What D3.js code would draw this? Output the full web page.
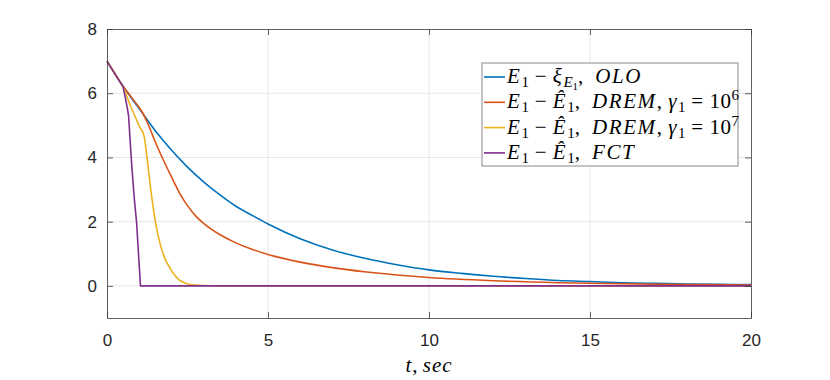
<!DOCTYPE html>
<html>
<head>
<meta charset="utf-8">
<script src="https://cdn.jsdelivr.net/npm/d3@7/dist/d3.min.js"></script>
<style>
  body { margin: 0; background: #fff; }
  .tick text { font-family: "Liberation Sans", Arial, sans-serif; font-size: 17px; fill: #262626; }
</style>
</head>
<body>
<svg id="chart" width="830" height="380"></svg>
<script>
// values
var xTicks = [0, 5, 10, 15, 20];
var yTicks = [0, 2, 4, 6, 8];

var oloT = [0, 0.4, 1, 1.5, 2, 2.5, 3, 3.5, 4, 4.5, 5, 6, 7, 8, 9, 10, 11, 12, 13, 14, 15, 16, 17, 18, 19, 20];
var oloE = [7, 6.36, 5.52, 4.83, 4.23, 3.7, 3.24, 2.84, 2.48, 2.2, 1.93, 1.47, 1.12, 0.86, 0.66, 0.5, 0.39, 0.3, 0.23, 0.17, 0.135, 0.1, 0.08, 0.06, 0.05, 0.04];

var drem6T = [0, 0.4, 0.8, 1.1, 1.3, 1.5, 1.75, 2, 2.25, 2.5, 2.75, 3, 3.5, 4, 4.5, 5, 6, 7, 8, 9, 10, 12, 14, 16, 18, 20];
var drem6E = [7, 6.36, 5.82, 5.4, 4.98, 4.48, 3.92, 3.4, 2.9, 2.5, 2.18, 1.95, 1.6, 1.34, 1.14, 0.98, 0.74, 0.57, 0.44, 0.34, 0.26, 0.16, 0.1, 0.065, 0.04, 0.03];

var drem7T = [0, 0.4, 0.55, 0.7, 0.85, 1.0, 1.15, 1.25, 1.36, 1.51, 1.67, 1.8, 1.93, 2.08, 2.24, 2.4, 2.55, 3.0, 3.5, 20];
var drem7E = [7, 6.36, 6.08, 5.68, 5.33, 4.98, 4.67, 3.94, 3.0, 1.96, 1.23, 0.85, 0.6, 0.36, 0.19, 0.1, 0.05, 0.01, 0, 0];

var fctT = [0, 0.4, 0.5, 0.56, 0.62, 0.67, 0.72, 0.77, 0.85, 0.92, 1.04, 20];
var fctE = [7, 6.36, 6.2, 5.9, 5.6, 5.3, 4.5, 3.73, 2.7, 1.96, 0, 0];

var seriesColors = ['#0072BD', '#D95319', '#EDB120', '#7E2F8E'];

var svg = d3.select('#chart');
var plotLeft = 107, plotRight = 751, plotTop = 29, plotBottom = 318;

var x = d3.scaleLinear().domain([0, 20]).range([plotLeft, plotRight]);
var y = d3.scaleLinear().domain([-1, 8]).range([plotBottom, plotTop]);

// grid
svg.append('g').selectAll('line').data(xTicks.slice(1, -1)).enter().append('line')
  .attr('x1', (d) => x(d)).attr('x2', (d) => x(d))
  .attr('y1', plotTop).attr('y2', plotBottom)
  .attr('stroke', '#e6e6e6').attr('stroke-width', 1);
svg.append('g').selectAll('line').data(yTicks.slice(0, -1)).enter().append('line')
  .attr('x1', plotLeft).attr('x2', plotRight)
  .attr('y1', (d) => y(d)).attr('y2', (d) => y(d))
  .attr('stroke', '#e6e6e6').attr('stroke-width', 1);

// curves
var allSeries = [
  {t: oloT, e: oloE},
  {t: drem6T, e: drem6E},
  {t: drem7T, e: drem7E},
  {t: fctT, e: fctE}
];
allSeries.forEach(function(s, i) {
  var pts = s.t.map((t, k) => [t, s.e[k]]);
  var line = d3.line()
    .x((d) => x(d[0]))
    .y((d) => y(d[1]))
    .curve(i === 3 ? d3.curveLinear : d3.curveMonotoneX);
  svg.append('path')
    .datum(pts)
    .attr('d', line)
    .attr('fill', 'none')
    .attr('stroke', seriesColors[i])
    .attr('stroke-width', 1.6)
    .attr('stroke-linejoin', 'round');
});

// axes (ticks inward, box on all sides)
var axisColor = '#3a3a3a';
function styleAxis(g) {
  g.select('.domain').attr('stroke', axisColor).attr('stroke-width', 0.8);
  g.selectAll('.tick line').attr('stroke', axisColor).attr('stroke-width', 0.8);
}
svg.append('g').attr('transform', 'translate(0,' + plotBottom + ')')
  .call(d3.axisBottom(x).tickValues(xTicks).tickSizeInner(-6).tickSizeOuter(0).tickPadding(16))
  .call(styleAxis);
svg.append('g').attr('transform', 'translate(0,' + plotTop + ')')
  .call(d3.axisTop(x).tickValues(xTicks).tickSizeInner(-6).tickSizeOuter(0).tickFormat(''))
  .call(styleAxis);
svg.append('g').attr('transform', 'translate(' + plotLeft + ',0)')
  .call(d3.axisLeft(y).tickValues(yTicks).tickSizeInner(-6).tickSizeOuter(0).tickPadding(10))
  .call(styleAxis);
svg.append('g').attr('transform', 'translate(' + plotRight + ',0)')
  .call(d3.axisRight(y).tickValues(yTicks).tickSizeInner(-6).tickSizeOuter(0).tickFormat(''))
  .call(styleAxis);

// x label
var xl = svg.append('text')
  .attr('x', x(10)).attr('y', 372)
  .attr('text-anchor', 'middle')
  .attr('font-family', '"Liberation Serif", "Times New Roman", serif')
  .attr('font-size', 21).attr('fill', '#000');
xl.append('tspan').attr('font-style', 'italic').attr('letter-spacing', 1).text('t');
xl.append('tspan').text(', ');
xl.append('tspan').attr('font-style', 'italic').attr('letter-spacing', 1).text('sec');

// legend
var legendLabels = [
  [['E', 'i'], ['1', 'sub'], [' \u2212 ', 'r'], ['\u03BE', 'i'], ['E', 'subi'], ['1', 'subsub'], [',  ', 'r'], ['OLO', 'i']],
  [['E', 'i'], ['1', 'sub'], [' \u2212 ', 'r'], ['\u00CA', 'i'], ['1', 'sub'], [',  ', 'r'], ['DREM', 'i'], [', ', 'r'], ['\u03B3', 'i'], ['1', 'sub'], [' = 10', 'r'], ['6', 'sup']],
  [['E', 'i'], ['1', 'sub'], [' \u2212 ', 'r'], ['\u00CA', 'i'], ['1', 'sub'], [',  ', 'r'], ['DREM', 'i'], [', ', 'r'], ['\u03B3', 'i'], ['1', 'sub'], [' = 10', 'r'], ['7', 'sup']],
  [['E', 'i'], ['1', 'sub'], [' \u2212 ', 'r'], ['\u00CA', 'i'], ['1', 'sub'], [',  ', 'r'], ['FCT', 'i']]
];
var shift = {r: 0, i: 0, sub: 4, subi: 4, subsub: 7, sup: -8};
var size = {r: 21, i: 21, sub: 15, subi: 15, subsub: 11, sup: 15};
var spacing = {r: 0.5, i: 1.6, sub: 0, subi: 0, subsub: 0, sup: 0};

var legend = svg.append('g');
legend.append('rect')
  .attr('x', 482).attr('y', 63).attr('width', 256).attr('height', 103)
  .attr('fill', '#fff').attr('stroke', '#8a8a8a').attr('stroke-width', 1);

legendLabels.forEach(function(parts, i) {
  var cy = 77 + i * 25.3;
  legend.append('line')
    .attr('x1', 484).attr('x2', 505)
    .attr('y1', cy).attr('y2', cy)
    .attr('stroke', seriesColors[i]).attr('stroke-width', 1.6);
  var txt = legend.append('text')
    .attr('x', 507).attr('y', cy + 6)
    .attr('font-family', '"Liberation Serif", "Times New Roman", serif')
    .attr('fill', '#000')
    .attr('xml:space', 'preserve')
    .style('white-space', 'pre');
  var cur = 0;
  parts.forEach(function(p) {
    var kind = p[1];
    var target = shift[kind];
    txt.append('tspan')
      .attr('dy', target - cur)
      .attr('font-size', size[kind])
      .attr('letter-spacing', spacing[kind])
      .attr('font-style', (kind === 'i' || kind === 'subi') ? 'italic' : 'normal')
      .text(p[0]);
    cur = target;
  });
});
</script>
</body>
</html>
